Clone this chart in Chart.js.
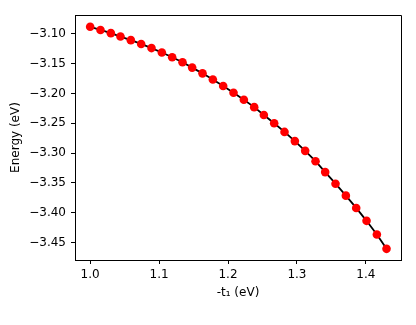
<!DOCTYPE html>
<html>
<head>
<meta charset="utf-8">
<script src="https://cdn.jsdelivr.net/npm/chart.js@4/dist/chart.umd.min.js"></script>
<style>
  html,body{margin:0;padding:0;background:#fff;}
  canvas{display:block;}
</style>
</head>
<body>
<canvas id="c" width="416" height="325"></canvas>
<script>
// ===== data =====
const t1 = [1.000,1.015,1.030,1.044,1.059,1.074,1.089,1.104,1.119,1.134,
            1.148,1.163,1.178,1.193,1.208,1.223,1.238,1.252,1.267,1.282,
            1.297,1.312,1.327,1.341,1.356,1.371,1.386,1.401,1.416,1.430];
const energy = [-3.0885,-3.0937,-3.0991,-3.1048,-3.1108,-3.1172,-3.1241,-3.1315,-3.1394,-3.1478,
                -3.1568,-3.1664,-3.1766,-3.1875,-3.1989,-3.2107,-3.2230,-3.2362,-3.2500,-3.2645,
                -3.2799,-3.2962,-3.3135,-3.3318,-3.3512,-3.3712,-3.3918,-3.4134,-3.4362,-3.4603];
const xTicks = [1.0,1.1,1.2,1.3,1.4];
const yTicks = [-3.45,-3.40,-3.35,-3.30,-3.25,-3.20,-3.15,-3.10];

const FONT = 'DejaVu Sans';
const fmt = (v,d) => v.toFixed(d).replace('-','\u2212');

// top/right spines like matplotlib
const frame = {
  id:'frame',
  afterDraw(chart){
    const {ctx, chartArea:a} = chart;
    ctx.save();
    ctx.strokeStyle='#000'; ctx.lineWidth=1;
    ctx.beginPath();
    ctx.moveTo(Math.round(a.left)+0.5, Math.round(a.top)+0.5);
    ctx.lineTo(Math.round(a.right)+0.5, Math.round(a.top)+0.5);
    ctx.lineTo(Math.round(a.right)+0.5, Math.round(a.bottom)+0.5);
    ctx.stroke();
    ctx.restore();
  }
};

new Chart(document.getElementById('c').getContext('2d'),{
  type:'line',
  data:{datasets:[{
    data:t1.map((x,i)=>({x, y:energy[i]})),
    borderColor:'#000', borderWidth:1.8,
    pointRadius:4.3, pointBackgroundColor:'#ff0000', pointBorderWidth:0,
    pointHoverRadius:4.3, tension:0
  }]},
  options:{
    responsive:false, animation:false, devicePixelRatio:1,
    layout:{padding:{top:15,right:15,left:0,bottom:0}},
    plugins:{legend:{display:false}, tooltip:{enabled:false}},
    scales:{
      x:{
        type:'linear', min:0.978, max:1.451,
        afterBuildTicks:s=>{s.ticks=xTicks.map(v=>({value:v}));},
        afterFit:s=>{s.height=65;},
        ticks:{font:{family:FONT,size:12}, color:'#000', padding:4, maxRotation:0,
               callback:v=>fmt(v,1)},
        grid:{drawOnChartArea:false, tickLength:4, tickColor:'#000', tickWidth:1},
        border:{color:'#000', width:1},
        title:{display:true, text:'-t\u2081 (eV)', color:'#000',
               font:{family:FONT,size:12}, padding:{top:0,bottom:25}}
      },
      y:{
        type:'linear', min:-3.479, max:-3.0687,
        afterBuildTicks:s=>{s.ticks=yTicks.map(v=>({value:v}));},
        afterFit:s=>{s.width=75;},
        ticks:{font:{family:FONT,size:12}, color:'#000', padding:5,
               callback:v=>fmt(v,2)},
        grid:{drawOnChartArea:false, tickLength:4, tickColor:'#000', tickWidth:1},
        border:{color:'#000', width:1},
        title:{display:true, text:'Energy (eV)', color:'#000',
               font:{family:FONT,size:12}, padding:{top:9,bottom:0}}
      }
    }
  },
  plugins:[frame]
});
</script>
</body>
</html>
